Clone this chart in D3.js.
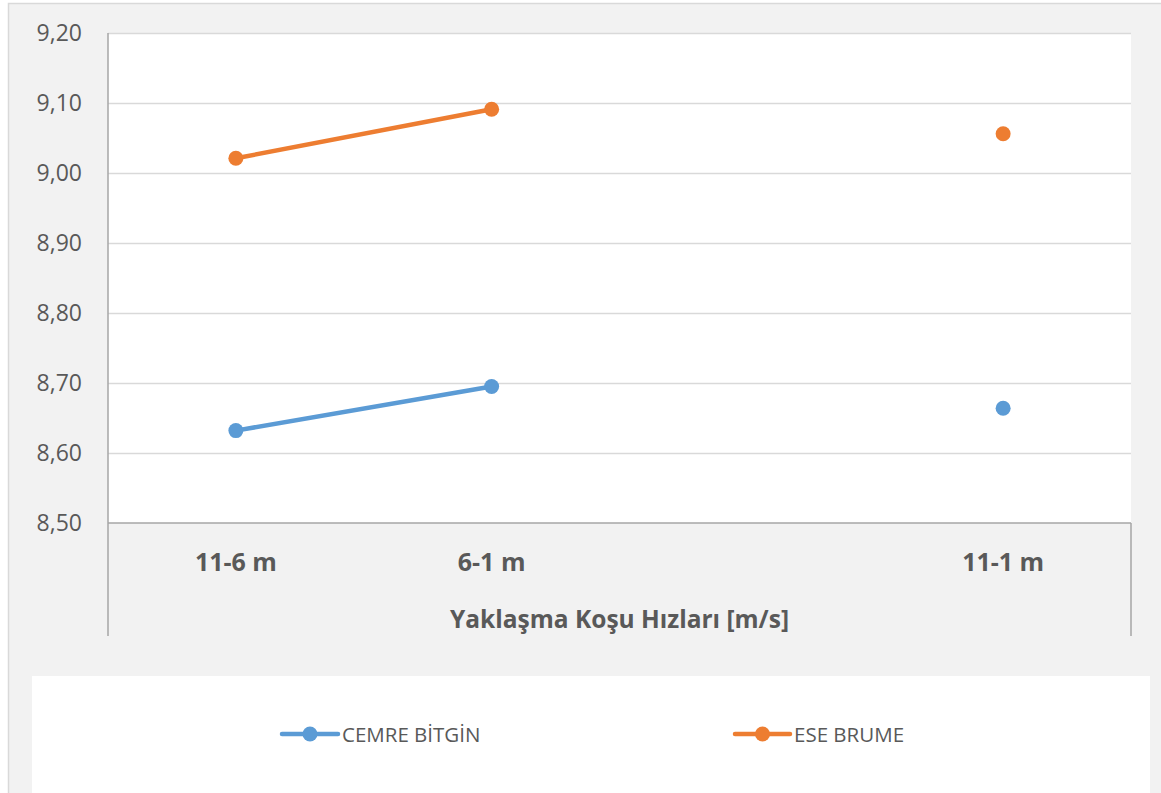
<!DOCTYPE html>
<html>
<head>
<meta charset="utf-8">
<script src="https://cdn.jsdelivr.net/npm/d3@7"></script>
<style>
  html, body { margin: 0; padding: 0; background: #ffffff; }
  svg { display: block; }
</style>
</head>
<body>
<svg id="chart" width="1161" height="793"></svg>
<script>
const categories = ["11-6 m", "6-1 m", "", "11-1 m"];
const seriesNames = ["CEMRE BİTGİN", "ESE BRUME"];
const cemreValues = [8.632, 8.695, null, 8.664];
const eseValues = [9.021, 9.091, null, 9.056];
const yTickValues = [8.50, 8.60, 8.70, 8.80, 8.90, 9.00, 9.10, 9.20];
const xTitle = "Yaklaşma Koşu Hızları [m/s]";
const colors = ["#5b9bd5", "#ed7d31"];

const W = 1161, H = 793;
const plot = { left: 108, right: 1131, top: 33, bottom: 523 };
const svg = d3.select("#chart");
const font = "'Open Sans', 'Noto Sans', sans-serif";
const textColor = "#595959";

// chart area background + border
svg.append("rect").attr("x", 0).attr("y", 0).attr("width", W).attr("height", H).attr("fill", "#ffffff");
svg.append("rect").attr("x", 8.5).attr("y", 3.5).attr("width", W + 20).attr("height", H + 20)
  .attr("fill", "#f2f2f2").attr("stroke", "#d9d9d9").attr("stroke-width", 1.5);

// plot area
svg.append("rect").attr("x", plot.left).attr("y", plot.top)
  .attr("width", plot.right - plot.left).attr("height", plot.bottom - plot.top).attr("fill", "#ffffff");

const x = d3.scaleBand().domain(categories).range([plot.left, plot.right]).paddingInner(0).paddingOuter(0);
const y = d3.scaleLinear().domain([8.5, 9.2]).range([plot.bottom, plot.top]);

const locale = d3.formatLocale({ decimal: ",", thousands: ".", grouping: [3], currency: ["", ""] });
const fmt = locale.format(".2f");

// gridlines
const grid = svg.append("g").attr("transform", `translate(${plot.left},0)`)
  .call(d3.axisLeft(y).tickValues(yTickValues.filter(v => v > 8.5)).tickSize(-(plot.right - plot.left)).tickFormat(""));
grid.select(".domain").remove();
grid.selectAll("line").attr("stroke", "#d9d9d9").attr("stroke-width", 1.3);

// y axis labels
const yAxis = svg.append("g").attr("transform", `translate(${plot.left},0)`)
  .call(d3.axisLeft(y).tickValues(yTickValues).tickSize(0).tickPadding(26).tickFormat(fmt));
yAxis.select(".domain").remove();
yAxis.selectAll("text").attr("fill", textColor).style("font-family", font).style("font-size", "23px");

// x axis labels
const xAxis = svg.append("g").attr("transform", `translate(0,${plot.bottom})`)
  .call(d3.axisBottom(x).tickSize(0).tickPadding(30));
xAxis.select(".domain").remove();
xAxis.selectAll("text").attr("fill", textColor).style("font-family", font)
  .style("font-size", "25px").style("font-weight", "bold");

// axis lines
const axisColor = "#a6a6a6";
svg.append("line").attr("x1", plot.left).attr("x2", plot.left).attr("y1", plot.top).attr("y2", 636)
  .attr("stroke", axisColor).attr("stroke-width", 1.5);
svg.append("line").attr("x1", plot.right).attr("x2", plot.right).attr("y1", plot.bottom).attr("y2", 636)
  .attr("stroke", axisColor).attr("stroke-width", 1.5);
svg.append("line").attr("x1", plot.left).attr("x2", plot.right).attr("y1", y(8.5)).attr("y2", y(8.5))
  .attr("stroke", axisColor).attr("stroke-width", 1.5);

// x title
svg.append("text").attr("x", (plot.left + plot.right) / 2).attr("y", 628)
  .attr("text-anchor", "middle").attr("fill", textColor)
  .style("font-family", font).style("font-size", "24.5px").style("font-weight", "bold")
  .text(xTitle);

// series
const allSeries = [cemreValues, eseValues];
const cx = (i) => x(categories[i]) + x.bandwidth() / 2;
const line = d3.line().defined(d => d.v != null).x(d => cx(d.i)).y(d => y(d.v));
allSeries.forEach((vals, s) => {
  const pts = vals.map((v, i) => ({ v, i }));
  svg.append("path").datum(pts).attr("d", line).attr("fill", "none")
    .attr("stroke", colors[s]).attr("stroke-width", 4.5).attr("stroke-linecap", "round");
  svg.append("g").selectAll("circle").data(pts.filter(d => d.v != null)).join("circle")
    .attr("cx", d => cx(d.i)).attr("cy", d => y(d.v)).attr("r", 7.5).attr("fill", colors[s]);
});

// legend
svg.append("rect").attr("x", 32).attr("y", 676).attr("width", 1150 - 32).attr("height", H - 676 + 10).attr("fill", "#ffffff");
const legendItems = [{ x0: 282, x1: 338, tx: 342 }, { x0: 735, x1: 790, tx: 794 }];
legendItems.forEach((it, s) => {
  const g = svg.append("g");
  g.append("line").attr("x1", it.x0).attr("x2", it.x1).attr("y1", 734).attr("y2", 734)
    .attr("stroke", colors[s]).attr("stroke-width", 4.5).attr("stroke-linecap", "round");
  g.append("circle").attr("cx", (it.x0 + it.x1) / 2).attr("cy", 734).attr("r", 7.5).attr("fill", colors[s]);
  g.append("text").attr("x", it.tx).attr("y", 742).attr("fill", textColor)
    .style("font-family", font).style("font-size", "20.5px").text(seriesNames[s]);
});
</script>
</body>
</html>
